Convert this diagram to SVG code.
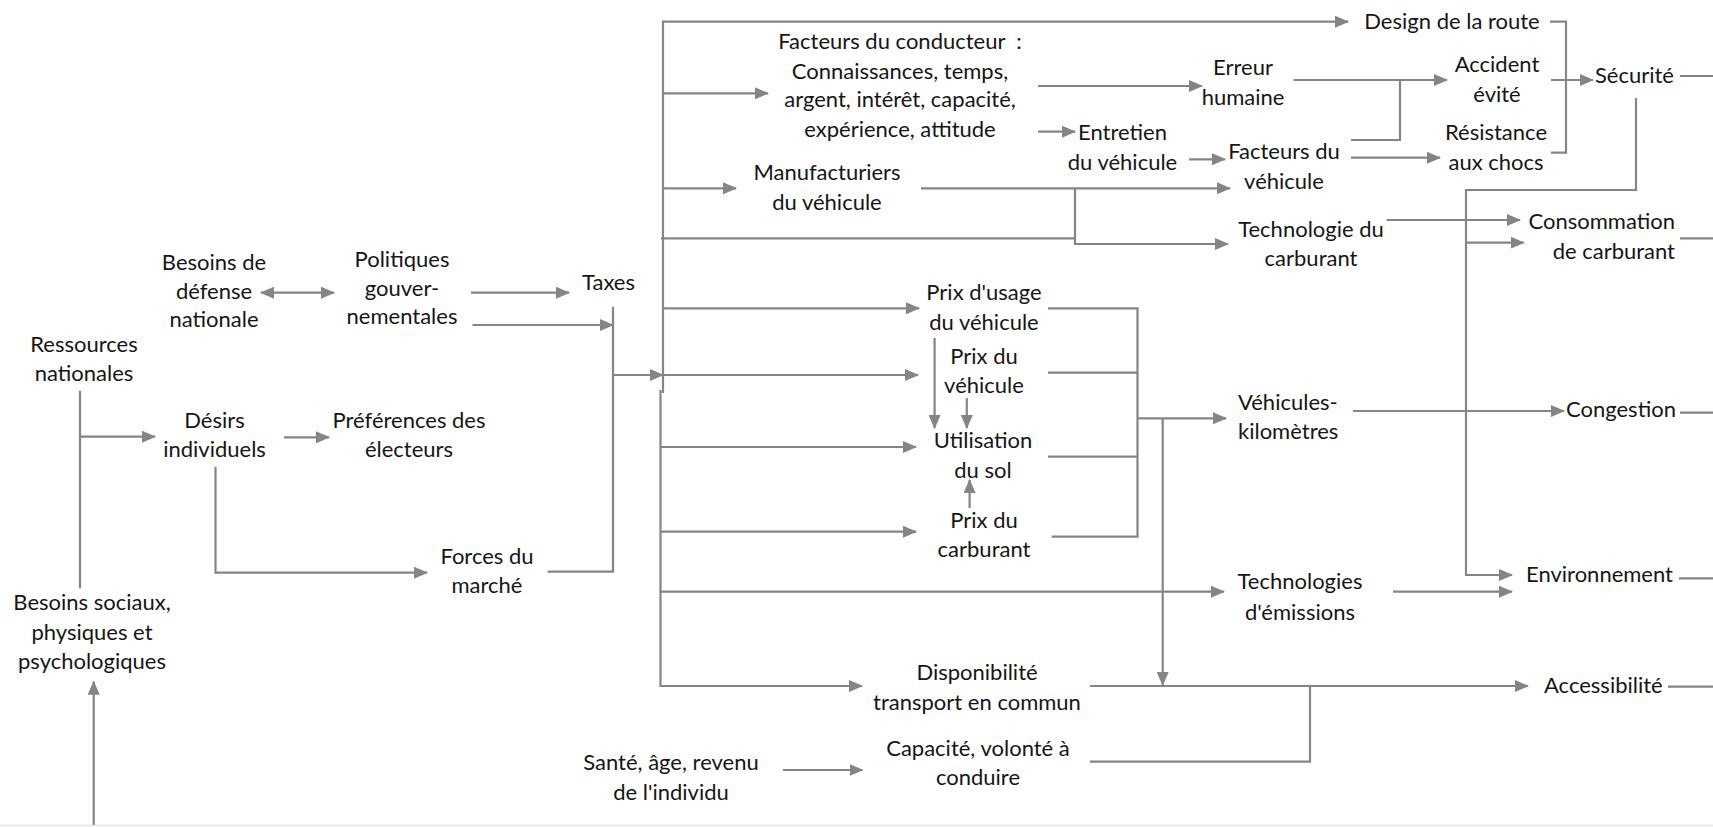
<svg xmlns="http://www.w3.org/2000/svg" width="1713" height="827" viewBox="0 0 1713 827">
  <style>
    text { font-family: Lato, "Liberation Sans", sans-serif; font-size: 22px; fill: #161616; text-anchor: middle; }
    .l { text-anchor: start; }
    .r { text-anchor: end; }
    .ln { fill: none; stroke: #858585; stroke-width: 2.2; }
    .ar { marker-end: url(#arr); }
  </style>
  <defs>
    <marker id="arr" markerUnits="userSpaceOnUse" markerWidth="14" markerHeight="12" refX="13" refY="6" orient="auto-start-reverse">
      <path d="M0,0 L14,6 L0,12 Z" fill="#858585"/>
    </marker>
  </defs>
  <rect width="1713" height="827" fill="#ffffff"/>
  <line x1="0" y1="825.5" x2="1713" y2="825.5" stroke="#ececec" stroke-width="2"/>

  <g id="connectors">
    <!-- main distribution bus -->
    <path class="ln ar" d="M663,393 V21.7 H1348"/>
    <path class="ln ar" d="M663,93.3 H768"/>
    <path class="ln ar" d="M663,188.3 H736"/>
    <path class="ln" d="M661,238.3 H1075"/>
    <path class="ln ar" d="M663,308.3 H919"/>
    <path class="ln ar" d="M663,375 H918"/>
    <path class="ln ar" d="M660.5,390 V686 H862"/>
    <path class="ln ar" d="M660.5,447 H916"/>
    <path class="ln ar" d="M660.5,531.7 H916"/>
    <path class="ln ar" d="M660.5,591.7 H1224"/>
    <!-- taxes collector -->
    <path class="ln" d="M613,306.7 V571.7 H547.6"/>
    <path class="ln ar" d="M613,375 H663"/>
    <path class="ln ar" d="M471,292.7 H569"/>
    <path class="ln ar" d="M472.5,325 H613"/>
    <path class="ln" d="M261,292.7 H334" marker-start="url(#arr)" marker-end="url(#arr)"/>
    <!-- left side -->
    <path class="ln" d="M80,390.7 V588.3"/>
    <path class="ln ar" d="M80,436.7 H155"/>
    <path class="ln ar" d="M284,437.3 H329"/>
    <path class="ln ar" d="M215.5,466.7 V572.7 H427"/>
    <path class="ln ar" d="M93.7,825 V681.7"/>
    <!-- driver and vehicle factors -->
    <path class="ln ar" d="M1038,86 H1202"/>
    <path class="ln ar" d="M1038,131.7 H1075"/>
    <path class="ln ar" d="M1189,159.3 H1225"/>
    <path class="ln ar" d="M921,188.3 H1230"/>
    <path class="ln ar" d="M1075,188.3 V244 H1228"/>
    <path class="ln ar" d="M1293.5,80 H1447"/>
    <path class="ln" d="M1351,140 H1400 V80"/>
    <path class="ln ar" d="M1351,157.7 H1440"/>
    <path class="ln" d="M1550,21.7 H1566 V152.7 H1551"/>
    <path class="ln ar" d="M1551,80 H1593"/>
    <path class="ln" d="M1680,76 H1713"/>
    <path class="ln ar" d="M1636,98 V190 H1466 V575 H1512"/>
    <path class="ln ar" d="M1466,242.7 H1523.7"/>
    <path class="ln ar" d="M1386.6,220 H1520"/>
    <path class="ln" d="M1680,238.3 H1713"/>
    <!-- prices and travel -->
    <path class="ln" d="M1048,308.3 H1137.5 V536.7 H1051.7"/>
    <path class="ln" d="M1048,372.7 H1137.5"/>
    <path class="ln" d="M1048,456.7 H1137.5"/>
    <path class="ln ar" d="M1137.5,418.3 H1226"/>
    <path class="ln ar" d="M1162.7,418.3 V685"/>
    <path class="ln ar" d="M934.6,338 V428"/>
    <path class="ln ar" d="M966.8,398 V428"/>
    <path class="ln ar" d="M969.6,508 V480"/>
    <path class="ln ar" d="M1353,411 H1564"/>
    <path class="ln" d="M1680,412.7 H1713"/>
    <path class="ln ar" d="M1393,591.7 H1512"/>
    <path class="ln" d="M1679,578.3 H1713"/>
    <path class="ln ar" d="M1090,686 H1528"/>
    <path class="ln" d="M1668,686.7 H1713"/>
    <path class="ln" d="M1090,761.7 H1310 V686"/>
    <path class="ln ar" d="M783,770 H862.6"/>
  </g>

  <g id="ressources"><text x="84" y="352">Ressources</text><text x="84" y="381">nationales</text></g>
  <g id="defense"><text x="214" y="270">Besoins de</text><text x="214" y="299">défense</text><text x="214" y="327">nationale</text></g>
  <g id="politiques"><text x="402" y="267">Politiques</text><text x="402" y="296">gouver-</text><text x="402" y="324">nementales</text></g>
  <g id="taxes"><text x="608.5" y="290">Taxes</text></g>
  <g id="desirs"><text x="214.5" y="428">Désirs</text><text x="214.5" y="457">individuels</text></g>
  <g id="preferences"><text x="409" y="428">Préférences des</text><text x="409" y="457">électeurs</text></g>
  <g id="forces"><text x="487" y="564">Forces du</text><text x="487" y="593">marché</text></g>
  <g id="besoins-sociaux"><text x="92" y="610">Besoins sociaux,</text><text x="92" y="640">physiques et</text><text x="92" y="669">psychologiques</text></g>

  <g id="conducteur">
    <text x="900" y="49">Facteurs du conducteur&#160; :</text>
    <text x="900" y="79">Connaissances, temps,</text>
    <text x="900" y="107">argent, intérêt, capacité,</text>
    <text x="900" y="137">expérience, attitude</text>
  </g>
  <g id="manufacturiers"><text x="827" y="180">Manufacturiers</text><text x="827" y="210">du véhicule</text></g>
  <g id="design"><text x="1452" y="29">Design de la route</text></g>
  <g id="erreur"><text x="1243" y="75">Erreur</text><text x="1243" y="105">humaine</text></g>
  <g id="entretien"><text x="1122.5" y="140">Entretien</text><text x="1122.5" y="170">du véhicule</text></g>
  <g id="facteurs-vehicule"><text x="1284" y="159">Facteurs du</text><text x="1284" y="189">véhicule</text></g>
  <g id="accident"><text x="1497" y="72">Accident</text><text x="1497" y="102">évité</text></g>
  <g id="resistance"><text x="1496" y="140">Résistance</text><text x="1496" y="170">aux chocs</text></g>
  <g id="securite"><text class="l" x="1595" y="83">Sécurité</text></g>
  <g id="techno-carburant"><text x="1311" y="237">Technologie du</text><text x="1311" y="266">carburant</text></g>
  <g id="consommation"><text class="r" x="1675" y="229">Consommation</text><text class="r" x="1675" y="259">de carburant</text></g>

  <g id="prix-usage"><text x="984" y="300">Prix d'usage</text><text x="984" y="330">du véhicule</text></g>
  <g id="prix-vehicule"><text x="984" y="364">Prix du</text><text x="984" y="393">véhicule</text></g>
  <g id="utilisation-sol"><text x="983" y="448">Utilisation</text><text x="983" y="478">du sol</text></g>
  <g id="prix-carburant"><text x="984" y="528">Prix du</text><text x="984" y="557">carburant</text></g>
  <g id="vehicules-km"><text class="l" x="1238" y="410">Véhicules-</text><text class="l" x="1238" y="439">kilomètres</text></g>
  <g id="congestion"><text class="l" x="1566" y="417">Congestion</text></g>
  <g id="techno-emissions"><text x="1300" y="589">Technologies</text><text x="1300" y="620">d'émissions</text></g>
  <g id="environnement"><text class="l" x="1526" y="582">Environnement</text></g>
  <g id="disponibilite"><text x="977" y="680">Disponibilité</text><text x="977" y="710">transport en commun</text></g>
  <g id="accessibilite"><text class="l" x="1544" y="693">Accessibilité</text></g>
  <g id="capacite"><text x="978" y="756">Capacité, volonté à</text><text x="978" y="785">conduire</text></g>
  <g id="sante"><text x="671" y="770">Santé, âge, revenu</text><text x="671" y="800">de l'individu</text></g>
</svg>
